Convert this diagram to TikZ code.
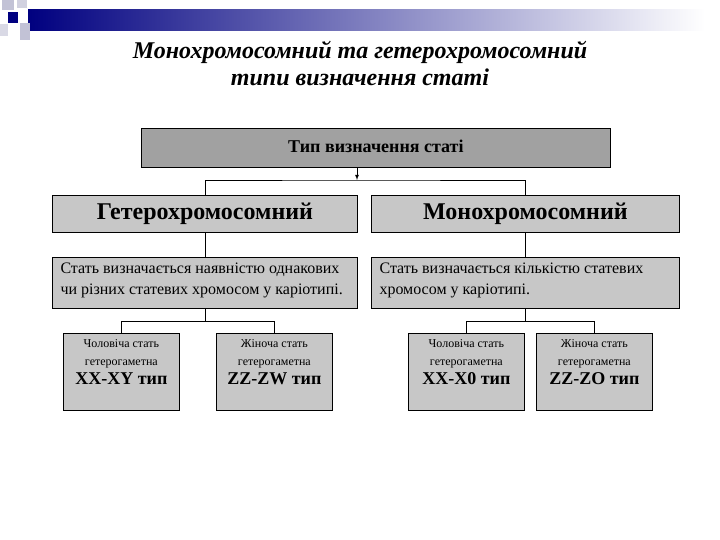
\documentclass[tikz,border=0pt]{standalone}
\usepackage{fontspec}
\setmainfont{Liberation Serif}
\begin{document}
\begin{tikzpicture}[x=1pt,y=-1pt,
  box/.style={draw=black,fill=black!22,line width=0.8pt,anchor=north west,inner sep=0pt},
  con/.style={draw=black,line width=0.8pt}]
\useasboundingbox (0,0) rectangle (720,540);
% header decoration
\shade[left color=blue!50!black,right color=white] (28,10) rectangle (705,31);
\fill[blue!20!gray!40] (2,0) rectangle (14,10);
\fill[blue!20!gray!30] (17,0) rectangle (27,8);
\fill[blue!50!black] (8,12) rectangle (18,23);
\fill[blue!20!gray!40] (20,23) rectangle (30,40);
\fill[blue!20!gray!25] (0,24) rectangle (8,36);
\node[font=\bfseries\itshape\fontsize{24}{27}\selectfont,align=center] (title) at (360,63) {Монохромосомний та гетерохромосомний\\типи визначення статі};
\node[box,fill=black!37,minimum width=469,minimum height=39] (top) at (141,128) {};
\node[font=\bfseries\fontsize{18}{20}\selectfont] at ([yshift=2]top.center) {Тип визначення статі};
\node[box,minimum width=305,minimum height=37] (het) at (52,195) {};
\node[font=\bfseries\fontsize{24}{26}\selectfont] at (het.center) {Гетерохромосомний};
\node[box,minimum width=308,minimum height=37] (mon) at (371,195) {};
\node[font=\bfseries\fontsize{24}{26}\selectfont] at (mon.center) {Монохромосомний};
\node[box,minimum width=305,minimum height=51] (hd) at (52,257) {};
\node[font=\fontsize{16}{21}\selectfont,align=left,anchor=west] at ([xshift=5,yshift=2]hd.west) {Стать визначається наявністю однакових\\чи різних статевих хромосом у каріотипі.};
\node[box,minimum width=308,minimum height=51] (md) at (371,257) {};
\node[font=\fontsize{16}{21}\selectfont,align=left,anchor=west] at ([xshift=5,yshift=2]md.west) {Стать визначається кількістю статевих\\хромосом у каріотипі.};
\foreach \n/\x/\a/\b in {a/63/Чоловіча стать/XX-XY тип, b/216/Жіноча стать/ZZ-ZW тип, c/408/Чоловіча стать/XX-X0 тип, d/536/Жіноча стать/ZZ-ZO тип}{
  \node[box,minimum width=116,minimum height=77] (\n) at (\x,333) {};
  \node[align=center,anchor=north,font=\fontsize{12}{18}\selectfont] (\n t) at ([yshift=-3]\n.north) {\a\\гетерогаметна\\[1pt]{\bfseries\fontsize{18}{20}\selectfont \b}};
}
\coordinate (j) at (357,180);
\draw[con,-latex] (top.south -| j) -- (j);
\draw[con] (het.north) |- (j) -| (mon.north);
\draw[con] (het.south) -- (hd.north);
\draw[con] (mon.south) -- (md.north);
\draw[con] (hd.south) -- ++(0,13) coordinate (l) -| (a.north);
\draw[con] (l) -| (b.north);
\draw[con] (md.south) -- ++(0,13) coordinate (r) -| (c.north);
\draw[con] (r) -| (d.north);
\end{tikzpicture}
\end{document}
